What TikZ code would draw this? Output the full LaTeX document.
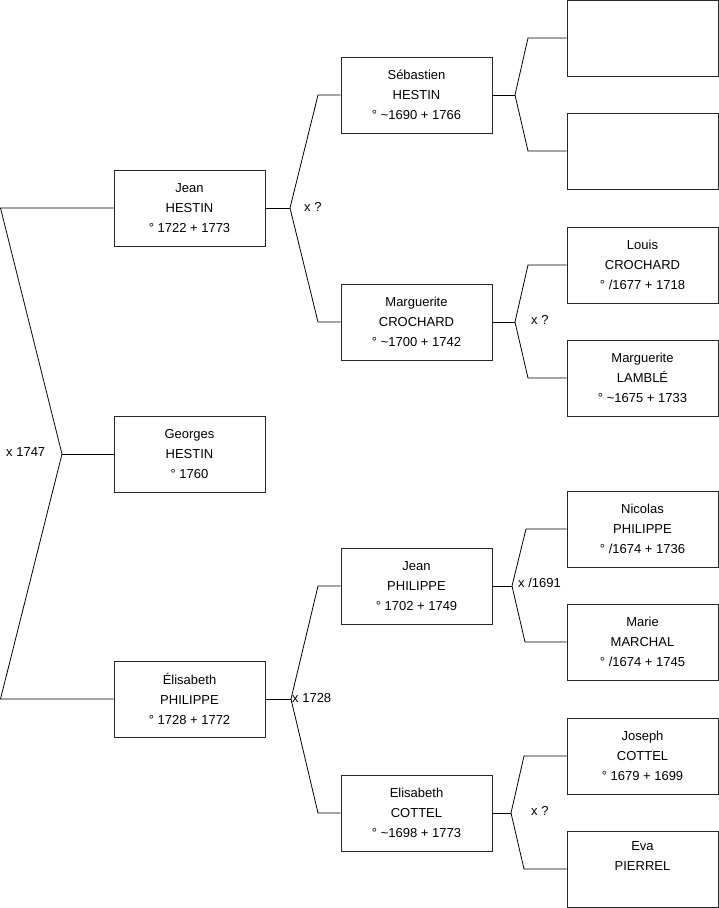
\documentclass[tikz,border=0pt]{standalone}
\usepackage{fontspec}
\setmainfont{Liberation Sans}
\begin{document}
\begin{tikzpicture}[x=1pt,y=-1pt,
  person/.style={draw=black!85,line width=0.9pt,minimum width=151pt,minimum height=76pt,inner sep=0pt,align=center,font=\fontsize{13}{20}\selectfont,fill=white},
  link/.style={draw=black,line width=0.8pt},
  marr/.style={anchor=west,inner sep=0pt,font=\fontsize{13}{16}\selectfont}]
\useasboundingbox (0,0) rectangle (719,908);
% generation 1
\node[person] (jh) at (189.5,208) {Jean\\HESTIN\\° 1722 + 1773};
\node[person] (gh) at (189.5,454) {Georges\\HESTIN\\° 1760};
\node[person] (ep) at (189.5,699) {Élisabeth\\PHILIPPE\\° 1728 + 1772};
% generation 2
\node[person] (sh) at (416.5,95) {Sébastien\\HESTIN\\° \textasciitilde1690 + 1766};
\node[person] (mc) at (416.5,322) {Marguerite\\CROCHARD\\° \textasciitilde1700 + 1742};
\node[person] (jp) at (416.5,586) {Jean\\PHILIPPE\\° 1702 + 1749};
\node[person] (ec) at (416.5,813) {Elisabeth\\COTTEL\\° \textasciitilde1698 + 1773};
% generation 3
\node[person] (e1) at (642.5,38) {};
\node[person] (e2) at (642.5,151) {};
\node[person] (lc) at (642.5,265) {Louis\\CROCHARD\\° /1677 + 1718};
\node[person] (ml) at (642.5,378) {Marguerite\\LAMBLÉ\\° \textasciitilde1675 + 1733};
\node[person] (np) at (642.5,529) {Nicolas\\PHILIPPE\\° /1674 + 1736};
\node[person] (mm) at (642.5,642) {Marie\\MARCHAL\\° /1674 + 1745};
\node[person] (jc) at (642.5,756) {Joseph\\COTTEL\\° 1679 + 1699};
\node[person] (pe) at (642.5,869) {Eva\\PIERREL\\\strut};
% vertices
\coordinate (v0) at (62,454);
\coordinate (t0) at (0.5,208);
\coordinate (b0) at (0.5,699);
\coordinate (v1) at (290,208);
\coordinate (t1) at (318,95);
\coordinate (b1) at (318,322);
\coordinate (v2) at (291,699);
\coordinate (t2) at (318,586);
\coordinate (b2) at (318,813);
\coordinate (v3) at (515,95);
\coordinate (t3) at (528,38);
\coordinate (b3) at (528,151);
\coordinate (v4) at (515,322);
\coordinate (t4) at (528,265);
\coordinate (b4) at (528,378);
\coordinate (v5) at (512,586);
\coordinate (t5) at (526,529);
\coordinate (b5) at (525,642);
\coordinate (v6) at (511,813);
\coordinate (t6) at (524,756);
\coordinate (b6) at (524,869);
% connectors
\draw[link] (jh.west) -- (t0) -- (v0) -- (b0) -- (ep.west);
\draw[link] (v0) -- (gh.west);
\draw[link] (jh.east) -- (v1);
\draw[link] (sh.west) -- (t1) -- (v1) -- (b1) -- (mc.west);
\draw[link] (ep.east) -- (v2);
\draw[link] (jp.west) -- (t2) -- (v2) -- (b2) -- (ec.west);
\draw[link] (sh.east) -- (v3);
\draw[link] (e1.west) -- (t3) -- (v3) -- (b3) -- (e2.west);
\draw[link] (mc.east) -- (v4);
\draw[link] (lc.west) -- (t4) -- (v4) -- (b4) -- (ml.west);
\draw[link] (jp.east) -- (v5);
\draw[link] (np.west) -- (t5) -- (v5) -- (b5) -- (mm.west);
\draw[link] (ec.east) -- (v6);
\draw[link] (jc.west) -- (t6) -- (v6) -- (b6) -- (pe.west);
% marriage labels
\node[marr] (m0) at (6,452) {x 1747};
\node[marr] (m1) at (304,207) {x ?};
\node[marr] (m2) at (292,698) {x 1728};
\node[marr] (m4) at (531,320) {x ?};
\node[marr] (m5) at (518,583) {x /1691};
\node[marr] (m6) at (531,811) {x ?};
\end{tikzpicture}
\end{document}
